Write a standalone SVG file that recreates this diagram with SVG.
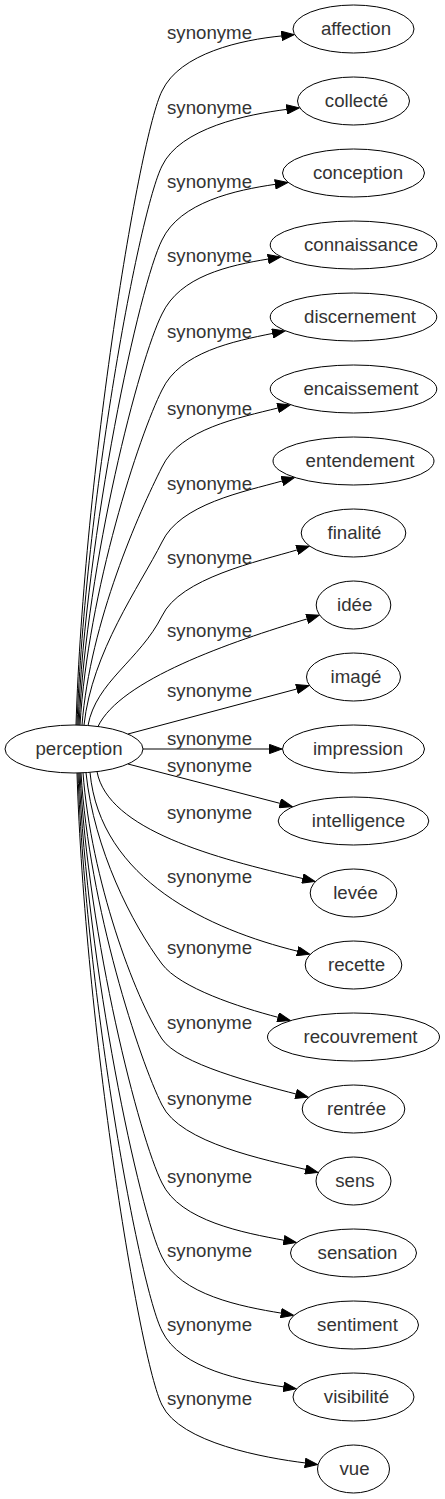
<svg xmlns="http://www.w3.org/2000/svg" width="445" height="1499" viewBox="0 0 445 1499">
<defs>
<marker id="ah" markerUnits="userSpaceOnUse" viewBox="0 0 14 10" markerWidth="14" markerHeight="10" refX="0.5" refY="5" orient="auto">
<path d="M0.5,0.4 L13,5 L0.5,9.6 Z" fill="#000" stroke="#000" stroke-width="1"/>
</marker>
<style>
text { font-family: "Liberation Sans", Arial, sans-serif; font-size: 18.67px; fill: #333; text-anchor: middle; }
.n ellipse { fill: #fff; stroke: #000; stroke-width: 1; }
.e path { fill: none; stroke: #000; stroke-width: 1; marker-end: url(#ah); }
</style>
</defs>
<rect x="0" y="0" width="445" height="1499" fill="#fff"/>
<g id="edges" class="e">
<g id="e0"><path d="M76,725 C84,471.4 139.5,135.5 162,91 C180,53 241.96,39.78 281.78,35.93"/><text x="209.5" y="38.5">synonyme</text></g>
<g id="e1"><path d="M77,725 C85,501.4 139.5,210.5 162,166 C180,128 247.17,114.35 286.86,109.37"/><text x="209.5" y="113.5">synonyme</text></g>
<g id="e2"><path d="M78,725 C86,531 139.5,284.5 162,240 C180,202 235.79,190.06 275.38,184.32"/><text x="209.5" y="187.5">synonyme</text></g>
<g id="e3"><path d="M79,725 C87,560.6 139.5,358.5 162,314 C180,276 228.83,265.48 268.3,259"/><text x="209.5" y="261.5">synonyme</text></g>
<g id="e4"><path d="M80,725 C88,591 139.5,434.5 162,390 C180,352 233.45,341.35 272.65,333.4"/><text x="209.5" y="337.5">synonyme</text></g>
<g id="e5"><path d="M82,725 C90,621.8 139.5,511.5 162,467 C180,429 239.32,417.68 278.11,407.94"/><text x="209.5" y="414.5">synonyme</text></g>
<g id="e6"><path d="M84,725 C92,651.8 139.5,586.5 162,542 C180,504 243.8,491.74 282.32,480.95"/><text x="209.5" y="489.5">synonyme</text></g>
<g id="e7"><path d="M88,725.5 C96,681.7 139.5,660.5 162,616 C180,578 258.93,561.33 297.25,549.85"/><text x="209.5" y="563.5">synonyme</text></g>
<g id="e8"><path d="M98,726.5 C120,680 230.6,641.8 307.23,618.86"/><text x="209.5" y="636.5">synonyme</text></g>
<g id="e9"><path d="M128,734 L296.94,688.96"/><text x="209.5" y="696.5">synonyme</text></g>
<g id="e10"><path d="M143,749 L269.5,749"/><text x="209.5" y="744.5">synonyme</text></g>
<g id="e11"><path d="M128,764 L280.2,803.4"/><text x="209.5" y="771.5">synonyme</text></g>
<g id="e12"><path d="M97,771.6 C108,830 215.2,858.2 302.84,878.56"/><text x="209.5" y="818.5">synonyme</text></g>
<g id="e13"><path d="M90,772.3 C100,880 210.2,929.7 297.61,951.23"/><text x="209.5" y="882.5">synonyme</text></g>
<g id="e14"><path d="M86,772.8 C94,849.2 132,924 162,964 C180,988 239.39,1007.23 278.09,1017.33"/><text x="209.5" y="953.5">synonyme</text></g>
<g id="e15"><path d="M83,772.8 C91,879.2 134.5,997.25 162,1039 C178.5,1064 257.41,1083.93 296.11,1094.03"/><text x="209.5" y="1028.5">synonyme</text></g>
<g id="e16"><path d="M81,773 C89,905.8 139.5,1060.5 162,1105 C180,1143 266.9,1160.1 305.78,1169.48"/><text x="209.5" y="1104.5">synonyme</text></g>
<g id="e17"><path d="M80,773 C88,937 139.5,1138.5 162,1183 C180,1221 244.62,1233.01 283.96,1240.23"/><text x="209.5" y="1182.5">synonyme</text></g>
<g id="e18"><path d="M79,773 C87,966.6 139.5,1212.5 162,1257 C180,1295 241.81,1306.66 281.28,1313.14"/><text x="209.5" y="1256.5">synonyme</text></g>
<g id="e19"><path d="M78,773 C86,996.2 139.5,1286.5 162,1331 C180,1369 244.21,1381.16 283.8,1386.9"/><text x="209.5" y="1330.5">synonyme</text></g>
<g id="e20"><path d="M77,773 C85,1025.8 139.5,1360.5 162,1405 C180,1443 265.53,1457.96 305.22,1462.94"/><text x="209.5" y="1404.5">synonyme</text></g>
</g>
<g id="nodes" class="n">
<g id="perception"><ellipse cx="74" cy="749" rx="69" ry="24"/><text x="79" y="755">perception</text></g>
<g id="affection"><ellipse cx="353.5" cy="29" rx="60.5" ry="24"/><text x="356" y="35">affection</text></g>
<g id="collecte"><ellipse cx="353.5" cy="101" rx="56" ry="24"/><text x="356.5" y="107">collecté</text></g>
<g id="conception"><ellipse cx="353.5" cy="173" rx="71" ry="24"/><text x="358" y="179">conception</text></g>
<g id="connaissance"><ellipse cx="353.5" cy="245" rx="83.3" ry="24"/><text x="361" y="251">connaissance</text></g>
<g id="discernement"><ellipse cx="353.5" cy="317" rx="83.3" ry="24"/><text x="360" y="323">discernement</text></g>
<g id="encaissement"><ellipse cx="353.5" cy="389" rx="83.3" ry="24"/><text x="361" y="395">encaissement</text></g>
<g id="entendement"><ellipse cx="353.5" cy="461" rx="80.5" ry="24"/><text x="360" y="467">entendement</text></g>
<g id="finalite"><ellipse cx="353.5" cy="533" rx="52.3" ry="24"/><text x="354.5" y="539">finalité</text></g>
<g id="idee"><ellipse cx="353.5" cy="605" rx="37.3" ry="24"/><text x="354.7" y="611">idée</text></g>
<g id="image"><ellipse cx="353.5" cy="677" rx="47" ry="24"/><text x="356" y="683">imagé</text></g>
<g id="impression"><ellipse cx="353.5" cy="749" rx="71" ry="24"/><text x="358" y="755">impression</text></g>
<g id="intelligence"><ellipse cx="353.5" cy="821" rx="75.3" ry="24"/><text x="358.5" y="827">intelligence</text></g>
<g id="levee"><ellipse cx="353.5" cy="893" rx="43.3" ry="24"/><text x="355.5" y="899">levée</text></g>
<g id="recette"><ellipse cx="353.5" cy="965" rx="48.3" ry="24"/><text x="356.5" y="971">recette</text></g>
<g id="recouvrement"><ellipse cx="353.5" cy="1037" rx="86" ry="24"/><text x="360.5" y="1043">recouvrement</text></g>
<g id="rentree"><ellipse cx="353.5" cy="1109" rx="51.3" ry="24"/><text x="356.5" y="1115">rentrée</text></g>
<g id="sens"><ellipse cx="353.5" cy="1181" rx="37.5" ry="24"/><text x="355" y="1187">sens</text></g>
<g id="sensation"><ellipse cx="353.5" cy="1253" rx="63" ry="24"/><text x="357.5" y="1259">sensation</text></g>
<g id="sentiment"><ellipse cx="353.5" cy="1325" rx="65" ry="24"/><text x="357.5" y="1331">sentiment</text></g>
<g id="visibilite"><ellipse cx="353.5" cy="1397" rx="60.5" ry="24"/><text x="356.5" y="1403">visibilité</text></g>
<g id="vue"><ellipse cx="353.5" cy="1469" rx="36" ry="24"/><text x="354.5" y="1475">vue</text></g>
</g>
</svg>
